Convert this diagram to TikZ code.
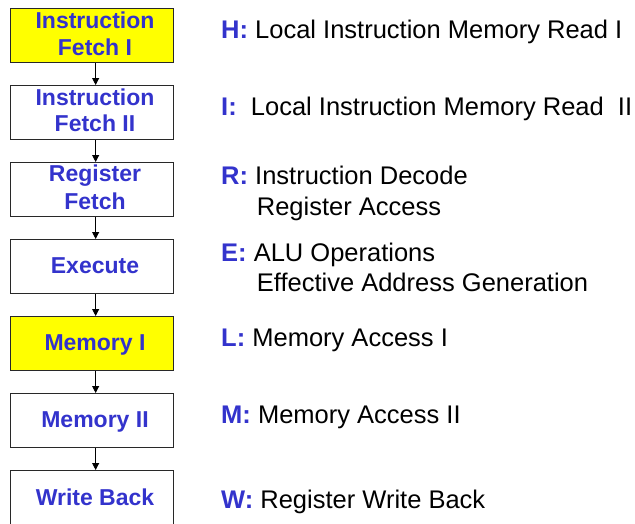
\documentclass[tikz,border=0pt]{standalone}
\usepackage{fontspec}
\setmainfont{Liberation Sans}
\usetikzlibrary{arrows.meta}
\definecolor{stageblue}{RGB}{51,51,204}
\definecolor{stageyellow}{RGB}{255,255,0}
\definecolor{edge}{RGB}{40,40,40}
\begin{document}
\begin{tikzpicture}[x=1pt,y=-1pt,
  stagebox/.style={draw=edge,line width=1.3pt,minimum width=163pt,minimum height=54pt,inner sep=0pt,anchor=north west},
  hot/.style={fill=stageyellow},
  boxtext/.style={anchor=base,inner sep=0pt,text=stageblue,font=\fontsize{23}{27}\selectfont\bfseries},
  desc/.style={anchor=base west,inner sep=0pt,font=\fontsize{25.5}{30}\selectfont},
  arr/.style={draw=black,line width=0.9pt,-{Triangle[length=7pt,width=7pt]}}]
\useasboundingbox (0,0) rectangle (635,523);
% boxes
\node[stagebox,hot] (b1) at (9.5,8) {};
\node[stagebox] (b2) at (9.5,85) {};
\node[stagebox] (b3) at (9.5,162) {};
\node[stagebox] (b4) at (9.5,239) {};
\node[stagebox,hot] (b5) at (9.5,316) {};
\node[stagebox] (b6) at (9.5,393) {};
\node[stagebox] (b7) at (9.5,470) {};
% box texts
\node[boxtext] (t1a) at (95,28.3) {Instruction};
\node[boxtext] (t1b) at (95,55) {Fetch I};
\node[boxtext] (t2a) at (95,105) {Instruction};
\node[boxtext] (t2b) at (95,131.7) {Fetch II};
\node[boxtext] (t3a) at (95,181.7) {Register};
\node[boxtext] (t3b) at (95,209.3) {Fetch};
\node[boxtext] (t4) at (95,273.3) {Execute};
\node[boxtext] (t5) at (95,350) {Memory I};
\node[boxtext] (t6) at (95,427.3) {Memory II};
\node[boxtext] (t7) at (95,505) {Write Back};
% arrows
\foreach \a/\b in {b1/b2,b2/b3,b3/b4,b4/b5,b5/b6,b6/b7}
  \draw[arr] ([xshift=4pt]\a.south) -- ([xshift=4pt]\b.north);
% descriptions
\newcommand{\tag}[1]{\textcolor{stageblue}{\bfseries #1}}
\node[desc] (dH) at (221,38.3) {\tag{H:} Local Instruction Memory Read I};
\node[desc] (dI) at (221,115) {\tag{I:}\ \ Local Instruction Memory Read\ \ II};
\node[desc] (dR) at (221,184.3) {\tag{R:} Instruction Decode};
\node[desc] (dR2) at (256.7,215) {Register Access};
\node[desc] (dE) at (221,261.7) {\tag{E:} ALU Operations};
\node[desc] (dE2) at (256.7,291.7) {Effective Address Generation};
\node[desc] (dL) at (221,346.7) {\tag{L:} Memory Access I};
\node[desc] (dM) at (221,423) {\tag{M:} Memory Access II};
\node[desc] (dW) at (221,508) {\tag{W:} Register Write Back};
\end{tikzpicture}
\end{document}
